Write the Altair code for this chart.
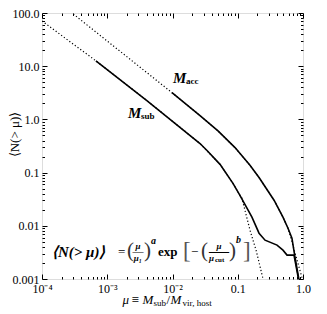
import altair as alt
import pandas as pd
import numpy as np

# ---------------- data ----------------
msub_mu = [0.00067, 0.0040, 0.0264, 0.0338, 0.0535, 0.0845, 0.108, 0.165, 0.212, 0.262, 0.400, 0.493, 0.569, 0.728, 0.853, 0.87]
msub_n = [12.6, 2.29, 0.352, 0.261, 0.143, 0.0628, 0.0374, 0.0145, 0.00726, 0.00537, 0.00434, 0.00349, 0.00281, 0.00281, 0.0010, 0.0006]

macc_mu = [0.00982, 0.0264, 0.0498, 0.0908, 0.154, 0.212, 0.360, 0.493, 0.589, 0.677, 0.753, 0.869, 0.88]
macc_n = [3.18, 1.18, 0.607, 0.295, 0.137, 0.0809, 0.0303, 0.0145, 0.0090, 0.00586, 0.00258, 0.00096, 0.0007]

fit_sub_mu = [0.0001, 0.00067, 0.0040, 0.0264, 0.0535, 0.0845, 0.108, 0.116, 0.130, 0.154, 0.191, 0.244, 0.26]
fit_sub_n = [70.8, 12.6, 2.29, 0.352, 0.143, 0.0628, 0.0374, 0.0329, 0.0189, 0.00828, 0.00349, 0.0010, 0.0007]

fit_acc_mu = [0.00025, 0.00982, 0.0264, 0.0498, 0.0908, 0.154, 0.212, 0.360, 0.493, 0.589, 0.633, 0.81, 0.966, 1.0]
fit_acc_n = [115.0, 3.18, 1.18, 0.607, 0.295, 0.137, 0.0809, 0.0303, 0.0145, 0.0090, 0.00667, 0.00227, 0.00105, 0.00085]

x_major = [1e-4, 1e-3, 1e-2, 1e-1, 1.0]
x_major_labels = ["10⁻⁴", "10⁻³", "10⁻²", "0.1", "1.0"]
y_major = [1e-3, 1e-2, 1e-1, 1.0, 10.0, 100.0]
y_major_labels = ["0.001", "0.01", "0.1", "1.0", "10.0", "100.0"]

# ---------------- layout ----------------
W, H = 261, 266
SERIF = "Liberation Serif"
xs = alt.Scale(type="log", domain=[1e-4, 1.0], nice=False)
ys = alt.Scale(type="log", domain=[1e-3, 100.0], nice=False)


def all_ticks(lo, hi):
    vals = []
    for e in range(lo, hi):
        for m in range(1, 10):
            vals.append(float(f"{m}e{e}"))
    vals.append(float(f"1e{hi}"))
    return vals


def label_expr(majors, labels):
    expr = "''"
    for v, l in zip(majors, labels):
        e = int(round(np.log10(v)))
        expr = f"round(log(datum.value)/LN10) == {e} ? '{l}' : " + expr
    return expr


MAJOR_TEST = "abs(log(datum.value)/LN10 - round(log(datum.value)/LN10)) < 0.001"
tick_size = {"condition": {"test": MAJOR_TEST, "value": 5}, "value": 2.5}

x_ticks = all_ticks(-4, 0)
y_ticks = all_ticks(-3, 2)

# label axes
ax_x_lab = alt.Axis(orient="bottom", values=x_major, labelExpr=label_expr(x_major, x_major_labels),
                    ticks=False, domain=False, grid=False, title=None, labelFont=SERIF,
                    labelFontSize=12, labelColor="black", labelPadding=4, labelFlush=False,
                    labelOverlap=False, labelBound=False)
ax_y_lab = alt.Axis(orient="left", values=y_major, labelExpr=label_expr(y_major, y_major_labels),
                    ticks=False, domain=False, grid=False, labelFont=SERIF, labelFontSize=12,
                    labelColor="black", labelPadding=3, labelFlush=False, labelOverlap=False,
                    labelBound=False, title="⟨N(> μ)⟩", titleFont=SERIF, titleFontSize=13,
                    titleFontWeight="normal", titleColor="black", titleX=-28, titleY=H / 2 - 12,
                    titleAngle=270, titleAlign="center", titleBaseline="middle")
# inward ticks bottom / left
ax_x_in_b = alt.Axis(orient="top", offset=-H, values=x_ticks, labels=False, domain=False, grid=False,
                     title=None, tickColor="black", tickWidth=1, tickSize=tick_size)
ax_y_in_l = alt.Axis(orient="right", offset=-W, values=y_ticks, labels=False, domain=False, grid=False,
                     title=None, tickColor="black", tickWidth=1, tickSize=tick_size)
# inward ticks top / right
ax_x_in_t = alt.Axis(orient="bottom", offset=-H, values=x_ticks, labels=False, domain=False, grid=False,
                     title=None, tickColor="black", tickWidth=1, tickSize=tick_size)
ax_y_in_r = alt.Axis(orient="left", offset=-W, values=y_ticks, labels=False, domain=False, grid=False,
                     title=None, tickColor="black", tickWidth=1, tickSize=tick_size)


def series_df(mu, n, name):
    return pd.DataFrame({"mu": mu, "n": n, "series": name, "i": list(range(len(mu)))})


solid_df = pd.concat([series_df(msub_mu, msub_n, "sub"), series_df(macc_mu, macc_n, "acc")])
fit_df = pd.concat([series_df(fit_sub_mu, fit_sub_n, "sub"), series_df(fit_acc_mu, fit_acc_n, "acc")])

dotted = alt.Chart(fit_df).mark_line(color="black", strokeWidth=1.2, strokeDash=[1.2, 2.2], clip=True).encode(
    x=alt.X("mu:Q", scale=xs, axis=ax_x_in_b),
    y=alt.Y("n:Q", scale=ys, axis=ax_y_in_l),
    detail="series:N", order="i:Q")

solid = alt.Chart(solid_df).mark_line(color="black", strokeWidth=1.6, clip=True).encode(
    x=alt.X("mu:Q", scale=xs, axis=ax_x_lab),
    y=alt.Y("n:Q", scale=ys, axis=ax_y_lab),
    detail="series:N", order="i:Q")

frame_ticks = alt.Chart(pd.DataFrame({"mu": [1e-4], "n": [1e-3]})).mark_point(opacity=0).encode(
    x=alt.X("mu:Q", scale=xs, axis=ax_x_in_t),
    y=alt.Y("n:Q", scale=ys, axis=ax_y_in_r))


def txt(text, mu, n, dx, dy, size, weight="normal", style="normal", align="left", color="black"):
    return alt.Chart(pd.DataFrame({"mu": [mu], "n": [n], "t": [text]})).mark_text(
        dx=dx, dy=dy, fontSize=size, fontWeight=weight, fontStyle=style, align=align,
        baseline="middle", font=SERIF, color=color).encode(
        x=alt.X("mu:Q", scale=xs, axis=None), y=alt.Y("n:Q", scale=ys, axis=None), text="t:N")


texts = []
# curve labels (anchored in data coordinates)
acc_anchor = (0.0102, 6.07)
sub_anchor = (0.00208, 1.34)
texts.append(txt("M", *acc_anchor, 0, 0, 15, "bold", "italic"))
texts.append(txt("acc", *acc_anchor, 13, 3, 9, "bold"))
texts.append(txt("M", *sub_anchor, 0, 0, 15, "bold", "italic"))
texts.append(txt("sub", *sub_anchor, 13, 3, 9, "bold"))

# formula, anchored at its left edge
f_anchor = (1.42e-4, 0.00321)
formula = [
    ("⟨N(> μ)⟩", 0, 0, 15, "bold", "italic", "left", "black"),
    ("=", 66, 0, 13, "normal", "normal", "left", "black"),
    ("(", 75, -1, 21, "normal", "normal", "left", "#333"),
    ("μ", 86, -6, 9, "bold", "italic", "center", "black"),
    ("—", 86, 0, 11, "normal", "normal", "center", "black"),
    ("μ₁", 86, 6, 9, "bold", "italic", "center", "black"),
    (")", 92, -1, 21, "normal", "normal", "left", "#333"),
    ("a", 99, -11, 10, "bold", "italic", "left", "black"),
    ("exp", 106, 0, 13, "bold", "normal", "left", "black"),
    ("[", 131, -1, 23, "normal", "normal", "left", "#555"),
    ("−", 139, 0, 13, "normal", "normal", "left", "black"),
    ("(", 149, -1, 21, "normal", "normal", "left", "#333"),
    ("μ", 167, -6, 9, "bold", "italic", "center", "black"),
    ("—", 167, 0, 20, "normal", "normal", "center", "black"),
    ("μ", 157, 6, 9, "bold", "italic", "left", "black"),
    ("cut", 163, 8, 7, "bold", "normal", "left", "black"),
    (")", 177, -1, 21, "normal", "normal", "left", "#333"),
    ("b", 184, -12, 10, "bold", "italic", "left", "black"),
    ("]", 191, -1, 23, "normal", "normal", "left", "#555"),
]
for t, dx, dy, s, w, st, al, c in formula:
    texts.append(txt(t, *f_anchor, dx, dy, s, w, st, al, c))

# x-axis title, anchored at the bottom centre of the plot
xt_anchor = (0.01, 0.001)
xtitle = [
    ("μ", -50, 21, 13, "italic"),
    ("≡", -41, 21, 13, "normal"),
    ("M", -30, 21, 13, "italic"),
    ("sub", -19, 24, 9, "normal"),
    ("/", -6, 21, 13, "normal"),
    ("M", -2, 21, 13, "italic"),
    ("vir, host", 10, 24, 9, "normal"),
]
for t, dx, dy, s, st in xtitle:
    texts.append(txt(t, *xt_anchor, dx, dy, s, "normal", st))

chart = alt.layer(solid, dotted, frame_ticks, *texts).resolve_axis(
    x="independent", y="independent"
).properties(
    width=W, height=H,
    autosize=alt.AutoSizeParams(type="none"),
    padding={"left": 34, "top": 5, "right": 16, "bottom": 30},
).configure_view(stroke="black", strokeWidth=1.6).configure(background="white")

chart.save("out.html", embed_options={"renderer": "svg", "actions": False})
